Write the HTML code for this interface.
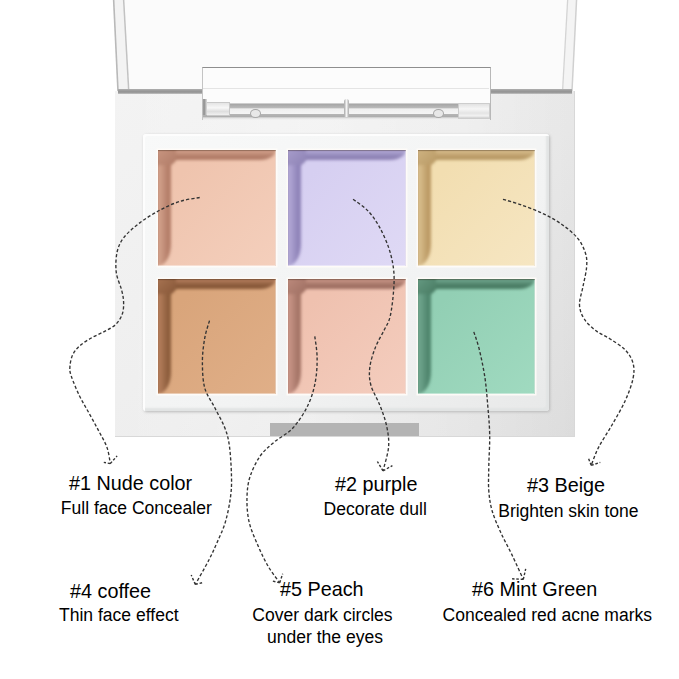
<!DOCTYPE html>
<html><head><meta charset="utf-8">
<style>
html,body{margin:0;padding:0;background:#fff;}
body{width:679px;height:679px;position:relative;overflow:hidden;font-family:"Liberation Sans",sans-serif;color:#000;}
.abs{position:absolute;}
.pan{position:absolute;overflow:hidden;}
.pan{box-shadow:0 0 0 1.5px rgba(255,252,248,.9);}
.pan .wl{position:absolute;left:-6px;top:-6px;width:19px;border-bottom-right-radius:13px 22px;filter:blur(1.8px);}
.pan .wt{position:absolute;left:-6px;top:-6px;height:16px;border-bottom-right-radius:16px 10px;filter:blur(1.8px);}
.pan .wc{position:absolute;left:-6px;top:-6px;width:24px;height:21px;border-bottom-right-radius:7px;filter:blur(1.8px);}
.pan .hl{position:absolute;left:0;top:0;right:0;bottom:0;box-shadow:inset 0 1px 1px rgba(40,20,10,.35), inset -1px -1px 0 rgba(255,255,255,.4);}
.t{position:absolute;white-space:nowrap;line-height:1;}
.h{font-size:19.8px;}
.s{font-size:17.55px;}
svg{position:absolute;left:0;top:0;}
svg.curves path{fill:none;stroke:#333;stroke-width:1.35;stroke-dasharray:3.2 2.1;}
svg.curves path.ah{stroke-dasharray:2.6 1.8;stroke-width:1.4;}
</style></head><body>
<svg width="679" height="679" viewBox="0 0 679 679">
 <polygon points="113,-1 577,-1 572,92 118,92" fill="#fbfbfb"/>
 <polygon points="113.5,-1 123.6,-1 128.7,90 117.9,90" fill="#f3f3f3"/>
 <polygon points="576.5,-1 567.7,-1 562.6,90 572,90" fill="#f4f4f4"/>
 <polyline points="113.6,-1 118,91" fill="none" stroke="#b9b9b9" stroke-width="1.6"/>
 <polyline points="123.6,-1 128.7,90" fill="none" stroke="#c2c2c2" stroke-width="1.5"/>
 <polyline points="576.6,-1 572,91" fill="none" stroke="#d0d0d0" stroke-width="1.5"/>
 <polyline points="567.7,-1 562.6,90" fill="none" stroke="#d4d4d4" stroke-width="1.3"/>
</svg>
<div class="abs" style="left:115px;top:91px;width:460px;height:346px;background:linear-gradient(90deg,rgba(255,255,255,0) 0%,rgba(255,255,255,.25) 40%,rgba(255,255,255,0) 75%,rgba(0,0,0,.03) 100%),linear-gradient(to bottom right,#f3f3f3 0%,#eeeeee 55%,#e3e3e3 100%);box-shadow:inset -1px -1px 0 #d8d8d8;"></div>
<div class="abs" style="left:118px;top:88.5px;width:454px;height:5.5px;background:linear-gradient(#b0b0b0,#959595 45%,#9c9c9c 75%,#c8c8c8);"></div>
<div class="abs" style="left:143px;top:134px;width:406px;height:277px;background:linear-gradient(to bottom right,#f8f9f9 0%,#f2f3f3 60%,#e8e9e9 100%);border-radius:3px;box-shadow:inset 2px 2px 0 #fdfdfd, inset -3px -3px 2px #e2e4e4, 1px 1px 3px #b8b8b8;"></div>
<div class="pan" style="left:158px;top:149.5px;width:118px;height:116.5px;background:linear-gradient(135deg,#efc4ae 20%,#f4cfbc 100%);">
<div class="wl" style="height:122.5px;background:linear-gradient(to right,#d09e88 0,#d09e88 8px,#b47e69 16px,#b47e69 19px)"></div><div class="wt" style="width:124px;background:linear-gradient(to bottom,#d09e88 0,#d09e88 7px,#b07b67 13px,#b07b67 16px)"></div><div class="wc" style="background:linear-gradient(135deg,#d09e88,#b07b67)"></div><div class="hl"></div></div>
<div class="pan" style="left:288px;top:149.5px;width:118px;height:116.5px;background:linear-gradient(135deg,#d6cff1 20%,#dfd9f5 100%);">
<div class="wl" style="height:122.5px;background:linear-gradient(to right,#afa5d3 0,#afa5d3 8px,#8f83b8 16px,#8f83b8 19px)"></div><div class="wt" style="width:124px;background:linear-gradient(to bottom,#afa5d3 0,#afa5d3 7px,#8d82b4 13px,#8d82b4 16px)"></div><div class="wc" style="background:linear-gradient(135deg,#afa5d3,#8d82b4)"></div><div class="hl"></div></div>
<div class="pan" style="left:417.5px;top:149.5px;width:117.5px;height:116.5px;background:linear-gradient(135deg,#f2deb1 20%,#f6e6c2 100%);">
<div class="wl" style="height:122.5px;background:linear-gradient(to right,#d6bb8a 0,#d6bb8a 8px,#bc9a65 16px,#bc9a65 19px)"></div><div class="wt" style="width:123.5px;background:linear-gradient(to bottom,#d6bb8a 0,#d6bb8a 7px,#b89965 13px,#b89965 16px)"></div><div class="wc" style="background:linear-gradient(135deg,#d6bb8a,#b89965)"></div><div class="hl"></div></div>
<div class="pan" style="left:158px;top:278.5px;width:118px;height:115.0px;background:linear-gradient(135deg,#d9a57b 20%,#e0af88 100%);">
<div class="wl" style="height:121.0px;background:linear-gradient(to right,#b17b59 0,#b17b59 8px,#8c5d3c 16px,#8c5d3c 19px)"></div><div class="wt" style="width:124px;background:linear-gradient(to bottom,#b17b59 0,#b17b59 7px,#865738 13px,#865738 16px)"></div><div class="wc" style="background:linear-gradient(135deg,#b17b59,#865738)"></div><div class="hl"></div></div>
<div class="pan" style="left:288px;top:278.5px;width:118px;height:115.0px;background:linear-gradient(135deg,#efc1af 20%,#f4cdbe 100%);">
<div class="wl" style="height:121.0px;background:linear-gradient(to right,#c59284 0,#c59284 8px,#a57567 16px,#a57567 19px)"></div><div class="wt" style="width:124px;background:linear-gradient(to bottom,#c59284 0,#c59284 7px,#9e6f62 13px,#9e6f62 16px)"></div><div class="wc" style="background:linear-gradient(135deg,#c59284,#9e6f62)"></div><div class="hl"></div></div>
<div class="pan" style="left:417.5px;top:278.5px;width:117.5px;height:115.0px;background:linear-gradient(135deg,#92cfb4 20%,#a0dac0 100%);">
<div class="wl" style="height:121.0px;background:linear-gradient(to right,#6da38b 0,#6da38b 8px,#4f856d 16px,#4f856d 19px)"></div><div class="wt" style="width:123.5px;background:linear-gradient(to bottom,#6da38b 0,#6da38b 7px,#487a62 13px,#487a62 16px)"></div><div class="wc" style="background:linear-gradient(135deg,#6da38b,#487a62)"></div><div class="hl"></div></div>

<div class="abs" style="left:270px;top:423px;width:149px;height:13px;background:#b4b4b4;"></div>
<div class="abs" style="left:202px;top:67px;width:287px;height:52px;background:#fcfcfc;border-top:1.5px solid #8e8e8e;border-left:1px solid #c4c4c4;border-right:1px solid #b8b8b8;"></div>
<div class="abs" style="left:203px;top:88px;width:286px;height:1px;background:#e4e4e4;"></div>
<div class="abs" style="left:203px;top:103px;width:287px;height:17px;background:linear-gradient(#e0e0e0 0px,#a8a8a8 1.5px,#b8b8b8 4.5px,#efefef 6px,#f4f4f4 10.5px,#b4b4b4 11.5px,#aeaeae 13.5px,#e2e2e2 15px,#f4f4f4 17px);"></div>
<div class="abs" style="left:207px;top:101.5px;width:22px;height:12px;background:linear-gradient(#e4e4e4,#f7f7f7 40%,#dedede 70%,#f0f0f0);border:1px solid #c8c8c8;border-left:none;"></div>
<div class="abs" style="left:201.5px;top:98.5px;width:5px;height:16px;background:linear-gradient(90deg,#d0d0d0,#8a8a8a 40%,#b4b4b4 70%,#e0e0e0);"></div>
<div class="abs" style="left:458px;top:102.5px;width:30px;height:14px;background:linear-gradient(#e2e2e2,#f6f6f6 35%,#e4e4e4 65%,#f2f2f2 85%,#cfcfcf);border:1px solid #cdcdcd;"></div>
<div class="abs" style="left:343.5px;top:99px;width:5px;height:18px;border-radius:2.5px 2.5px 1px 1px;background:linear-gradient(90deg,#a8a8a8,#f4f4f4 50%,#acacac);"></div>
<div class="abs" style="left:250px;top:109px;width:9px;height:7px;border-radius:50%;background:#e8e8e8;border:1px solid #a8a8a8;"></div>
<div class="abs" style="left:433px;top:109px;width:9px;height:7px;border-radius:50%;background:#e8e8e8;border:1px solid #a8a8a8;"></div>
<svg class="curves" width="679" height="679" viewBox="0 0 679 679">
<path d="M199.7,197.5 C196.4,198.1 186.8,199.2 180.2,201.3 C173.6,203.4 166.8,206.4 160.1,210.0 C153.4,213.6 146.2,218.0 140.1,222.6 C134.0,227.2 127.6,232.6 123.8,237.6 C120.0,242.6 118.2,246.8 117.0,252.6 C115.8,258.4 115.5,266.4 116.3,272.6 C117.1,278.8 120.4,285.1 121.6,290.0 C122.8,294.9 123.5,298.0 123.6,302.0 C123.7,306.0 123.6,310.2 122.3,314.0 C121.0,317.8 118.6,321.6 115.7,324.5 C112.8,327.4 109.1,328.9 105.1,331.1 C101.1,333.3 96.0,335.3 91.8,337.7 C87.6,340.1 83.1,342.8 79.9,345.7 C76.7,348.6 74.3,351.4 72.6,355.0 C70.9,358.6 70.1,363.5 69.9,367.0 C69.7,370.5 69.7,371.4 71.3,376.2 C72.9,381.0 76.4,389.5 79.4,395.7 C82.4,401.9 86.0,407.6 89.2,413.5 C92.5,419.4 95.9,425.6 98.9,431.3 C101.9,437.0 105.1,442.1 107.0,447.5 C108.9,452.9 109.8,460.9 110.3,463.6"/>
<path d="M353.1,199.3 C355.5,201.2 363.3,206.0 367.7,210.6 C372.1,215.2 376.0,220.8 379.5,227.1 C383.0,233.4 386.5,241.2 388.9,248.3 C391.2,255.4 392.8,262.4 393.6,269.5 C394.4,276.6 394.2,282.8 393.6,290.7 C393.0,298.6 391.7,310.1 390.1,316.7 C388.5,323.2 386.7,324.8 384.2,330.0 C381.7,335.2 377.7,341.4 375.3,347.7 C372.9,354.0 370.5,361.4 369.8,367.6 C369.1,373.9 369.2,378.9 370.9,385.2 C372.6,391.4 377.2,398.5 379.8,405.1 C382.4,411.7 384.9,418.1 386.4,425.0 C387.9,431.9 389.2,439.2 388.6,446.8 C388.0,454.4 383.9,466.9 383.0,470.9"/>
<path d="M503.0,199.3 C505.9,200.2 514.1,202.4 520.6,204.7 C527.1,207.0 535.1,209.8 541.8,213.0 C548.5,216.2 554.8,219.5 560.7,223.6 C566.6,227.7 573.1,232.8 577.2,237.7 C581.3,242.6 583.8,248.1 585.4,253.0 C587.0,257.9 587.0,261.7 586.6,267.2 C586.2,272.7 584.3,279.7 583.1,286.0 C581.9,292.3 579.3,299.4 579.5,304.9 C579.7,310.4 581.5,314.7 584.3,319.0 C587.0,323.3 591.7,327.5 596.0,330.8 C600.3,334.1 605.3,335.8 610.2,339.0 C615.1,342.2 621.4,345.9 625.2,349.9 C629.0,353.9 631.7,358.3 633.0,363.1 C634.3,367.9 634.3,372.3 633.0,378.6 C631.7,384.9 628.7,393.0 625.2,400.7 C621.7,408.4 616.4,417.3 612.0,425.0 C607.6,432.7 602.2,440.4 598.7,447.1 C595.2,453.8 592.5,462.3 591.2,465.3"/>
<path d="M209.5,320.6 C208.7,323.6 205.9,331.4 204.7,338.3 C203.5,345.2 202.4,353.6 202.4,361.8 C202.4,370.1 202.7,380.3 204.7,387.8 C206.7,395.3 210.8,399.9 214.2,406.6 C217.5,413.3 222.2,421.1 224.8,427.8 C227.4,434.5 228.4,438.6 229.5,446.7 C230.6,454.8 231.3,468.1 231.5,476.5 C231.7,484.9 231.5,489.5 230.5,497.1 C229.5,504.7 227.6,514.3 225.4,521.9 C223.2,529.5 219.8,536.1 217.1,542.5 C214.3,548.9 212.5,553.0 208.9,560.0 C205.3,567.0 197.6,580.3 195.3,584.4"/>
<path d="M314.8,336.4 C315.2,339.8 317.0,349.7 317.1,357.1 C317.2,364.5 316.9,372.8 315.5,380.7 C314.1,388.6 312.1,396.4 308.4,404.3 C304.7,412.2 298.8,421.5 293.1,427.8 C287.4,434.1 279.8,437.3 274.3,442.0 C268.8,446.7 264.1,450.4 260.1,456.1 C256.1,461.9 252.3,469.7 250.1,476.5 C247.9,483.3 247.2,489.5 247.0,497.1 C246.8,504.7 247.2,513.6 249.1,521.9 C251.0,530.1 255.1,539.0 258.4,546.6 C261.7,554.2 265.1,561.2 268.7,567.2 C272.2,573.2 277.9,580.1 279.7,582.7"/>
<path d="M473.8,331.9 C474.7,334.7 477.2,341.1 479.1,348.7 C481.0,356.3 483.4,367.8 484.9,377.4 C486.3,387.0 487.0,396.6 487.8,406.2 C488.6,415.8 489.5,424.8 489.7,434.9 C489.9,444.9 488.9,457.2 488.8,466.5 C488.7,475.8 488.2,483.4 488.8,490.8 C489.4,498.2 490.1,503.7 492.1,510.7 C494.1,517.7 497.6,525.4 500.9,532.8 C504.2,540.2 508.3,547.1 512.0,554.9 C515.7,562.7 521.4,575.3 523.3,579.4"/>
<path class="ah" d="M110.3,463.6 L103.8,462.4 M110.3,463.6 L117.1,455.9"/>
<path class="ah" d="M383,470.9 L377.4,461.5 M383,470.9 L392.4,465.6"/>
<path class="ah" d="M591.2,465.3 L588,457.1 M591.2,465.3 L600.3,462.4"/>
<path class="ah" d="M195.3,584.4 L191.2,575 M195.3,584.4 L202.4,582.7"/>
<path class="ah" d="M279.7,582.7 L272,580.9 M279.7,582.7 L282.7,573.8"/>
<path class="ah" d="M523.3,579.4 L512.1,578.8 M523.3,579.4 L525.7,568.8"/>
</svg>
<div class="t h" style="left:69px;top:474px;">#1 Nude color</div>
<div class="t s" style="left:60.8px;top:500.3px;">Full face Concealer</div>
<div class="t h" style="left:335px;top:475px;">#2 purple</div>
<div class="t s" style="left:323.5px;top:501px;">Decorate dull</div>
<div class="t h" style="left:527px;top:475.7px;">#3 Beige</div>
<div class="t s" style="left:498.2px;top:502.5px;">Brighten skin tone</div>
<div class="t h" style="left:70px;top:581.5px;">#4 coffee</div>
<div class="t s" style="left:59px;top:606.5px;">Thin face effect</div>
<div class="t h" style="left:280px;top:579.5px;">#5 Peach</div>
<div class="t s" style="left:252.3px;top:607px;">Cover dark circles</div>
<div class="t s" style="left:267px;top:628.8px;">under the eyes</div>
<div class="t h" style="left:472px;top:579.7px;">#6 Mint Green</div>
<div class="t s" style="left:442.5px;top:607px;">Concealed red acne marks</div>
</body></html>
